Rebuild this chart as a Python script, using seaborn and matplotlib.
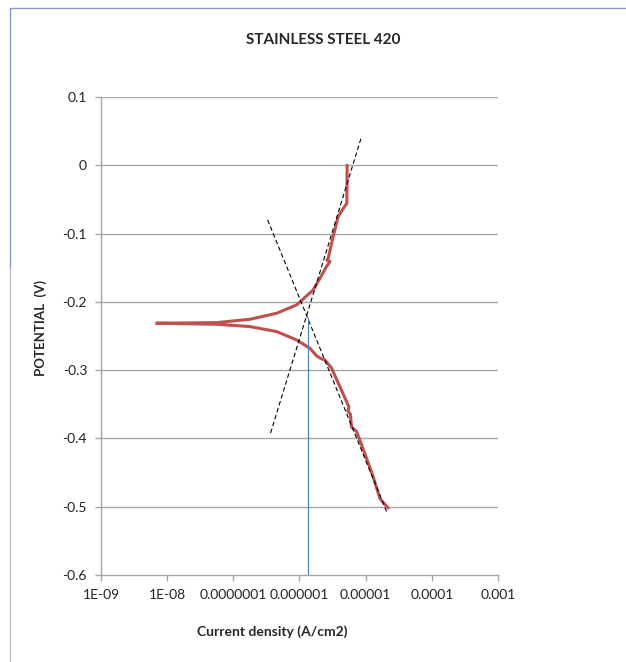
import numpy as np
import pandas as pd
import seaborn as sns
import matplotlib.pyplot as plt
from matplotlib.lines import Line2D

# polarization curve, cathodic branch (bottom -> tip) then anodic branch (tip -> top)
current = [2.19e-5, 1.64e-5, 1.30e-5, 9.7e-6, 7.3e-6, 6.1e-6, 5.9e-6, 5.4e-6, 5.6e-6,
           4.07e-6, 3.05e-6, 2.42e-6, 2.1e-6, 1.81e-6, 1.44e-6, 9.04e-7, 4.51e-7, 1.78e-7,
           5.6e-8, 6.9e-9,
           5.6e-8, 1.78e-7, 4.51e-7, 9.04e-7, 1.61e-6, 2.2e-6, 2.57e-6, 2.9e-6, 2.6e-6,
           2.72e-6, 3.23e-6, 3.85e-6, 4.6e-6, 5.2e-6, 5.25e-6]
potential = [-0.502, -0.488, -0.456, -0.422, -0.390, -0.383, -0.365, -0.360, -0.354,
             -0.324, -0.297, -0.285, -0.283, -0.279, -0.268, -0.2558, -0.2435, -0.2362,
             -0.2328, -0.2313,
             -0.2304, -0.2255, -0.2167, -0.2045, -0.1826, -0.160, -0.148, -0.141, -0.139,
             -0.136, -0.1045, -0.075, -0.063, -0.056, 0.0]

# Tafel extrapolation lines
anodic_x = [3.66e-7, 8.67e-6]
anodic_y = [-0.392, 0.042]
cathodic_x = [3.3e-7, 2.07e-5]
cathodic_y = [-0.080, -0.507]

# corrosion current marker
icorr_x = [1.33e-6, 1.33e-6]
icorr_y = [-0.224, -0.6]

xticks = [1e-9, 1e-8, 1e-7, 1e-6, 1e-5, 1e-4, 1e-3]
xticklabels = ["1E-09", "1E-08", "0.0000001", "0.000001", "0.00001", "0.0001", "0.001"]
yticks = [0.1, 0, -0.1, -0.2, -0.3, -0.4, -0.5, -0.6]
yticklabels = ["0.1", "0", "-0.1", "-0.2", "-0.3", "-0.4", "-0.5", "-0.6"]

sns.set_style("white")
plt.rcParams['font.family'] = ['Lato', 'DejaVu Sans']

fig = plt.figure(figsize=(6.26, 6.62), dpi=100)
ax = fig.add_axes([0.1613, 0.1314, 0.6342, 0.7221])

df = pd.DataFrame({'current': current, 'potential': potential})
sns.lineplot(data=df, x='current', y='potential', sort=False, estimator=None,
             color='#C0504D', lw=2.2, ax=ax)
sns.lineplot(x=anodic_x, y=anodic_y, color='black', lw=0.8, linestyle=(0, (4, 2.5)),
             estimator=None, ax=ax)
sns.lineplot(x=cathodic_x, y=cathodic_y, color='black', lw=0.8, linestyle=(0, (4, 2.5)),
             estimator=None, ax=ax)
sns.lineplot(x=icorr_x, y=icorr_y, color='#4F81BD', lw=0.9, estimator=None, sort=False, ax=ax)

ax.set_xscale('log')
ax.set_xlim(1e-9, 1e-3)
ax.set_ylim(-0.6, 0.1)
ax.set_xticks(xticks)
ax.set_xticklabels(xticklabels, fontsize=10)
ax.minorticks_off()
ax.set_yticks(yticks)
ax.set_yticklabels(yticklabels, fontsize=10)

for y in yticks[:-1]:
    ax.axhline(y, color='#A6A6A6', lw=1, zorder=0)

for s in ['top', 'right']:
    ax.spines[s].set_visible(False)
for s in ['left', 'bottom']:
    ax.spines[s].set_color('#A6A6A6')
    ax.spines[s].set_linewidth(1)
ax.tick_params(axis='both', which='major', length=4, width=1, color='#A6A6A6',
               direction='out', left=True, bottom=True, labelcolor='#222222', pad=6)

ax.set_xlabel('Current density (A/cm2)', fontsize=10, fontweight='bold')
ax.xaxis.set_label_coords(0.431, -0.105)
ax.set_ylabel('POTENTIAL  (V)', fontsize=9.5, fontweight='bold')
ax.yaxis.set_label_coords(-0.136, 0.517)
fig.text(323 / 626, 1 - 40 / 662, 'STAINLESS STEEL 420', ha='center', va='center',
         fontsize=11, fontweight='bold')

# outer frame lines
fig.add_artist(Line2D([10 / 626, 1], [1 - 8 / 662, 1 - 8 / 662], color='#7F9DC7', lw=1))
fig.add_artist(Line2D([10 / 626, 10 / 626], [1 - 8 / 662, 1 - 268 / 662], color='#7F9DC7', lw=1))
fig.add_artist(Line2D([10 / 626, 10 / 626], [1 - 268 / 662, 0], color='#BFBFBF', lw=1))

fig.savefig('out.png', dpi=100)
